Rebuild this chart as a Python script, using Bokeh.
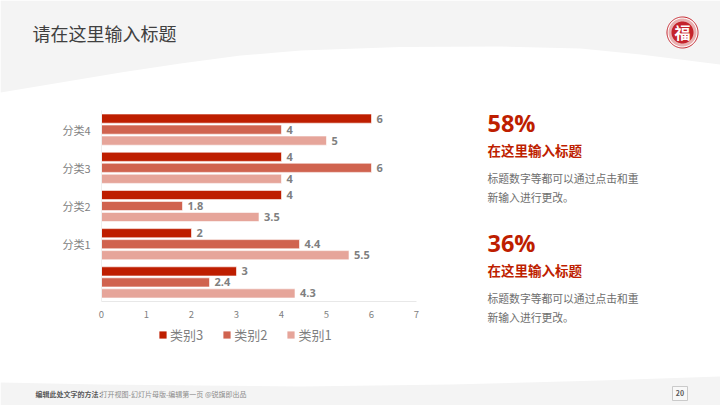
import numpy as np
from bokeh.plotting import figure
from bokeh.embed import file_html
from bokeh.resources import INLINE
from bokeh.layouts import column
from bokeh.core.properties import value
from bokeh.models import (ColumnDataSource, FactorRange, Range1d, Label, PolyAnnotation,
                          Legend, LegendItem, FixedTicker)
from bokeh.transform import dodge

categories = [" ", "分类1", "分类2", "分类3", "分类4"]
series_names = ["类别3", "类别2", "类别1"]
series_3 = [3, 2, 4, 4, 6]
series_2 = [2.4, 4.4, 1.8, 6, 4]
series_1 = [4.3, 5.5, 3.5, 4, 5]
labels_3 = ["3", "2", "4", "4", "6"]
labels_2 = ["2.4", "4.4", "1.8", "6", "4"]
labels_1 = ["4.3", "5.5", "3.5", "4", "5"]
x_ticks = [0, 1, 2, 3, 4, 5, 6, 7]

DARK, MID, LIGHT = "#BE1E00", "#D0634F", "#E6A59A"
series_colors = [DARK, MID, LIGHT]
GREY = "#7F7F7F"
FONT = "Noto Sans CJK SC"
W, H = 720, 405
FL, FR, FT, FB = 101, 416, 110, 301   # frame edges

# ---------- page decoration: a full-bleed figure underneath ----------
bg = figure(width=W, height=H, output_backend="svg", toolbar_location=None,
            x_axis_type=None, y_axis_type=None, x_range=Range1d(0, W), y_range=Range1d(0, H),
            min_border=0, background_fill_color=None, border_fill_color="white",
            outline_line_color=None, frame_align=False)
bg.grid.visible = False

def poly(xs, ys, **kw):
    bg.add_layout(PolyAnnotation(xs=list(xs), ys=[H - y for y in ys], fill_alpha=1, line_alpha=1,
                                 xs_units="screen", ys_units="screen", level="underlay", **kw))

def text(x, y, s, size, color, bold=False, align="left", font=FONT):
    bg.add_layout(Label(x=x, y=H - y + 2, x_units="screen", y_units="screen", text=s,
                        text_font=font, text_font_size=f"{size}px", text_color=color,
                        text_font_style="bold" if bold else "normal",
                        text_align=align, text_baseline="middle"))

BAND = "#F4F4F4"
top_x = [0, 60, 120, 180, 240, 300, 400, 500, 580, 640, 720]
top_y = [92, 82, 72, 63, 55, 50, 46.5, 46, 48, 54, 64]
poly([0] + top_x + [720], [0] + top_y + [0], fill_color=BAND, line_color=None)
bot_x = [0, 100, 200, 300, 450, 600, 720]
bot_y = [382, 384, 385, 386, 384, 380, 376]
poly([0] + bot_x + [720], [405] + bot_y + [405], fill_color=BAND, line_color=None)

t = np.linspace(0, 2 * np.pi, 90)
def disc(r, **kw):
    poly(682 + r * np.cos(t), 32 + r * np.sin(t), **kw)
disc(15.5, fill_color="white", line_color="#C4232B", line_width=1)
disc(14, fill_color="#E8B0B0", line_color=None)
disc(11, fill_color="#C4232B", line_color=None)
text(682, 33, "福", 16, "white", bold=True, align="center")

text(32, 34, "请在这里输入标题", 18, "#404040")
for y0, pct in [(124, "58%"), (244, "36%")]:
    text(487, y0, pct, 23.5, DARK, bold=True, font="Open Sans")
    text(487, y0 + 27, "在这里输入标题", 13.5, DARK, bold=True)
    text(487, y0 + 55, "标题数字等都可以通过点击和重", 10.8, "#6E6E6E")
    text(487, y0 + 74, "新输入进行更改。", 10.8, "#6E6E6E")

text(35, 395, "编辑此处文字的方法：", 7, "#595959", bold=True)
text(100, 395, "打开视图-幻灯片母版-编辑第一页 @锐旗即出品", 7, "#8C8C8C")
poly([672, 687, 687, 672], [386, 386, 400, 400], fill_color="#F8F8F8", line_color="#BFBFBF", line_width=0.8)
text(679.5, 394, "20", 7, "#595959", bold=True, align="center")

# legend lives on the full-bleed figure so that it is not cut by the chart's frame;
# its swatch renderers use a value below the visible range so only the legend shows them
legend_items = []
for name, col in zip(series_names, series_colors):
    swatch = bg.hbar(y=[-10], right=[1], left=[0], height=1, fill_color=col, line_color=None)
    legend_items.append(LegendItem(label=name, renderers=[swatch]))
bg.add_layout(Legend(items=legend_items, orientation="horizontal", location=(158, 61),
                     border_line_color=None, background_fill_color=None, label_text_font=FONT,
                     label_text_font_size="13px", label_text_color=GREY, glyph_width=9,
                     glyph_height=9, label_standoff=3, spacing=19, margin=0, padding=0), "center")

# ---------- chart ----------
p = figure(width=W, height=H, output_backend="svg", toolbar_location=None,
           y_range=FactorRange(factors=categories, range_padding=0, factor_padding=0),
           x_range=Range1d(0, 7),
           min_border_left=FL, min_border_right=W - FR, min_border_top=FT, min_border_bottom=H - FB,
           background_fill_color=None, border_fill_color=None, outline_line_color=None,
           frame_align=False)
p.styles = {"position": "absolute", "left": "0px", "top": "0px"}
p.grid.visible = False

src = ColumnDataSource(dict(cat=categories, s3=series_3, s2=series_2, s1=series_1,
                            l3=labels_3, l2=labels_2, l1=labels_1))
for key, lab, off, col in zip(["s3", "s2", "s1"], ["l3", "l2", "l1"], [0.288, 0.0, -0.288], series_colors):
    y = dodge("cat", off, range=p.y_range)
    p.hbar(y=y, right=key, left=0, height=0.24, source=src, fill_color=col,
           line_color="white", line_width=0.6)
    p.text(x=key, y=y, text=lab, source=src, x_offset=5, text_baseline="middle", text_align="left",
           text_font=value("Open Sans"), text_font_size="11px", text_font_style="bold", text_color=GREY)

p.xaxis.ticker = FixedTicker(ticks=x_ticks)
p.xaxis.major_tick_line_color = None
p.xaxis.minor_tick_line_color = None
p.xaxis.axis_line_color = "#E8E8E8"
p.xaxis.major_label_text_font = FONT
p.xaxis.major_label_text_font_size = "9.5px"
p.xaxis.major_label_text_color = GREY
p.xaxis.major_label_standoff = 3
p.yaxis.major_tick_line_color = None
p.yaxis.minor_tick_line_color = None
p.yaxis.axis_line_color = "#EFEFEF"
p.yaxis.major_label_text_font = FONT
p.yaxis.major_label_text_font_size = "11px"
p.yaxis.major_label_text_color = GREY
p.yaxis.major_label_standoff = 5

open("out.html", "w").write(file_html(column(bg, p), INLINE))
